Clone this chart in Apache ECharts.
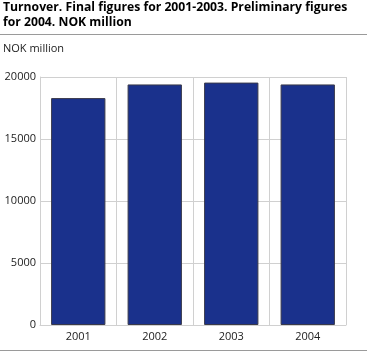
<!DOCTYPE html>
<html><head><meta charset="utf-8">
<script src="https://cdn.jsdelivr.net/npm/echarts@6/dist/echarts.min.js"></script>
<style>html,body{margin:0;padding:0;background:#fff}#c{width:367px;height:352px}</style>
</head><body><div id="c"></div>
<script>
const categories = ['2001', '2002', '2003', '2004'];
const turnover = [18300, 19400, 19550, 19400];
const yTicks = [0, 5000, 10000, 15000, 20000];

const chart = echarts.init(document.getElementById('c'), null, {renderer: 'canvas'});
const font = '"Open Sans", "DejaVu Sans", sans-serif';
chart.setOption({
  animation: false,
  title: {
    text: 'Turnover. Final figures for 2001-2003. Preliminary figures\nfor 2004. NOK million',
    left: 3, top: 0, padding: 0,
    textStyle: {fontFamily: font, fontSize: 12.2, fontWeight: 'bold', color: '#000', lineHeight: 15}
  },
  graphic: [
    {type: 'line', shape: {x1: 0, y1: 34.5, x2: 367, y2: 34.5}, style: {stroke: '#9a9a9a', lineWidth: 1}},
    {type: 'line', shape: {x1: 0, y1: 350.5, x2: 367, y2: 350.5}, style: {stroke: '#9a9a9a', lineWidth: 1}},
    {type: 'text', left: 3, top: 43, style: {text: 'NOK million', font: '11px ' + font, fill: '#222'}}
  ],
  grid: {left: 40, right: 21, top: 77, bottom: 27},
  xAxis: {
    type: 'category', data: categories,
    axisLine: {show: true, lineStyle: {color: '#d0d0d0'}},
    axisTick: {show: false},
    splitLine: {show: true, lineStyle: {color: '#d0d0d0'}},
    axisLabel: {fontFamily: font, fontSize: 11, color: '#222', margin: 6}
  },
  yAxis: {
    type: 'value', min: yTicks[0], max: yTicks[yTicks.length - 1], interval: 5000,
    axisLine: {show: true, lineStyle: {color: '#d0d0d0'}},
    axisTick: {show: false},
    splitLine: {show: true, lineStyle: {color: '#d0d0d0'}},
    axisLabel: {fontFamily: font, fontSize: 11, color: '#222', margin: 4, formatter: v => String(v)}
  },
  series: [{
    type: 'bar', data: turnover, barCategoryGap: '29%',
    itemStyle: {color: '#1a318c', borderColor: '#3a3a4a', borderWidth: 1}
  }]
});
</script></body></html>
